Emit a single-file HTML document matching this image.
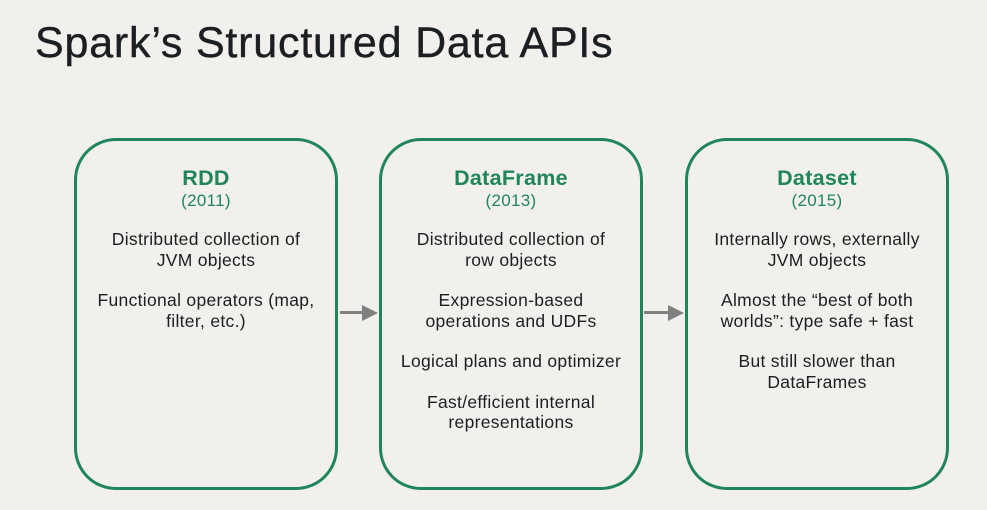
<!DOCTYPE html>
<html><head><style>
body{margin:0;width:987px;height:510px;background:#f1f0ec;font-family:"Liberation Sans",sans-serif;position:relative;overflow:hidden}
h1{position:absolute;left:35px;top:19px;margin:0;font-weight:normal;font-size:43px;color:#1b1f22;letter-spacing:0.8px;-webkit-text-stroke:0.4px #1b1f22}
.box{position:absolute;top:138px;width:258px;height:346px;border:3px solid #21855a;border-radius:42px;box-sizing:content-box;text-align:center;color:#1b1f22;font-size:17.5px;line-height:20.5px;letter-spacing:0.3px}
.t{color:#21855a;font-weight:bold;font-size:21.5px;margin-top:25px;line-height:24px}
.y{color:#21855a;font-size:17px;line-height:22px;margin-bottom:17px}
p{margin:0 0 20px 0}
.arr{position:absolute;top:311px;height:3px;background:#808080}
.ah{position:absolute;top:305px;width:0;height:0;border-top:8px solid transparent;border-bottom:8px solid transparent;border-left:16px solid #808080}
</style></head><body>
<h1>Spark’s Structured Data APIs</h1>
<div class="box" style="left:74px"><div class="t">RDD</div><div class="y">(2011)</div>
<p>Distributed collection of<br>JVM objects</p><p>Functional operators (map,<br>filter, etc.)</p></div>
<div class="box" style="left:379px"><div class="t">DataFrame</div><div class="y">(2013)</div>
<p>Distributed collection of<br>row objects</p><p>Expression-based<br>operations and UDFs</p><p>Logical plans and optimizer</p><p>Fast/efficient internal<br>representations</p></div>
<div class="box" style="left:685px"><div class="t">Dataset</div><div class="y">(2015)</div>
<p>Internally rows, externally<br>JVM objects</p><p>Almost the “best of both<br>worlds”: type safe + fast</p><p>But still slower than<br>DataFrames</p></div>
<div class="arr" style="left:340px;width:24px"></div><div class="ah" style="left:362px"></div>
<div class="arr" style="left:644px;width:26px"></div><div class="ah" style="left:668px"></div>
</body></html>
